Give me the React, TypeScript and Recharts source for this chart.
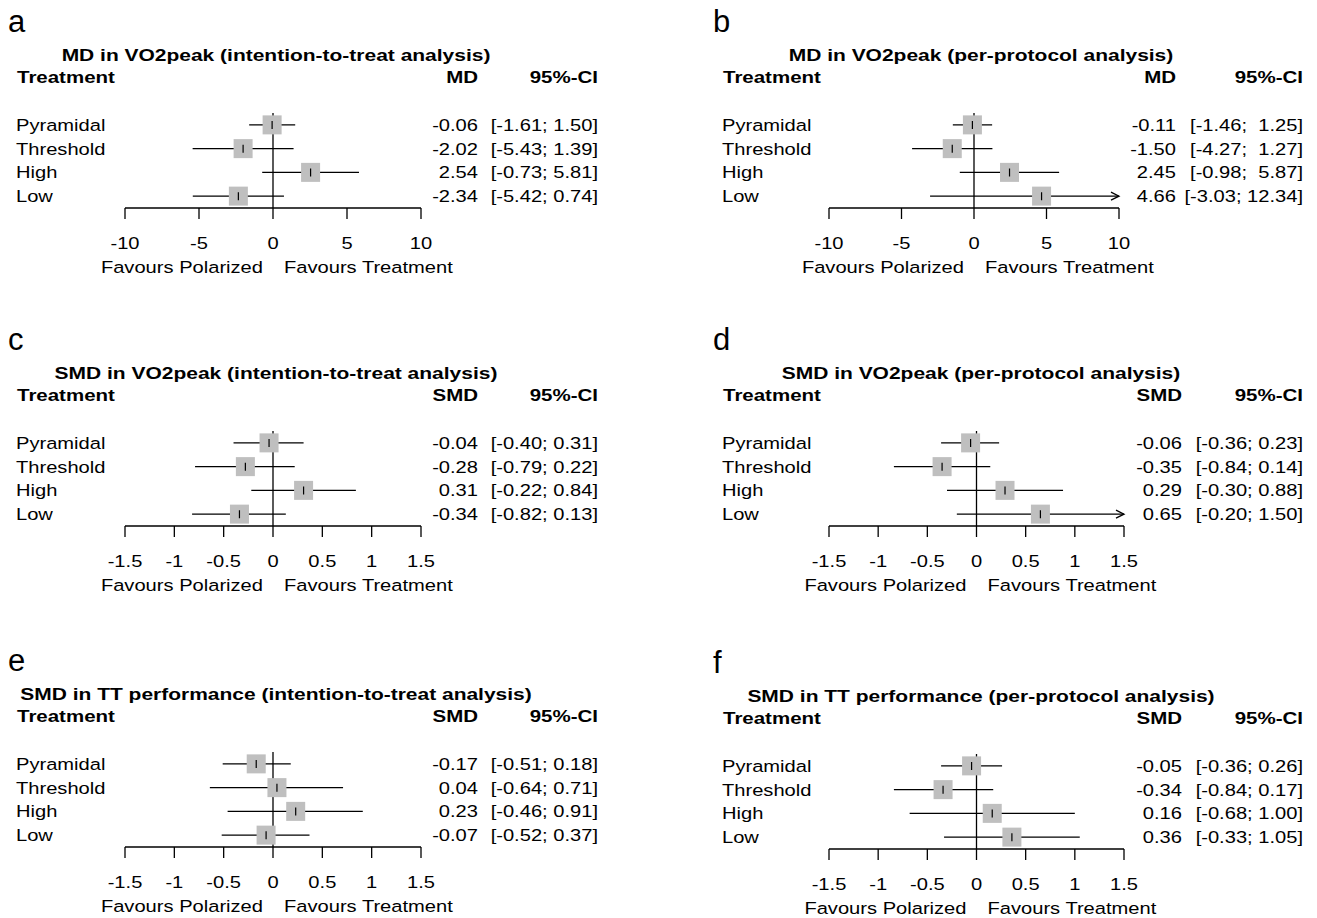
import React from "react";
import { ScatterChart, Scatter, XAxis, YAxis, ReferenceLine } from "recharts";

const treatments = ["Pyramidal", "Threshold", "High", "Low"];

// a: MD in VO2peak, intention-to-treat
const mdIttEst = [-0.06, -2.02, 2.54, -2.34];
const mdIttLower = [-1.61, -5.43, -0.73, -5.42];
const mdIttUpper = [1.5, 1.39, 5.81, 0.74];

// b: MD in VO2peak, per-protocol
const mdPpEst = [-0.11, -1.5, 2.45, 4.66];
const mdPpLower = [-1.46, -4.27, -0.98, -3.03];
const mdPpUpper = [1.25, 1.27, 5.87, 12.34];

// c: SMD in VO2peak, intention-to-treat
const smdIttEst = [-0.04, -0.28, 0.31, -0.34];
const smdIttLower = [-0.4, -0.79, -0.22, -0.82];
const smdIttUpper = [0.31, 0.22, 0.84, 0.13];

// d: SMD in VO2peak, per-protocol
const smdPpEst = [-0.06, -0.35, 0.29, 0.65];
const smdPpLower = [-0.36, -0.84, -0.3, -0.2];
const smdPpUpper = [0.23, 0.14, 0.88, 1.5];

// e: SMD in TT performance, intention-to-treat
const ttIttEst = [-0.17, 0.04, 0.23, -0.07];
const ttIttLower = [-0.51, -0.64, -0.46, -0.52];
const ttIttUpper = [0.18, 0.71, 0.91, 0.37];

// f: SMD in TT performance, per-protocol
const ttPpEst = [-0.05, -0.34, 0.16, 0.36];
const ttPpLower = [-0.36, -0.84, -0.68, -0.33];
const ttPpUpper = [0.26, 0.17, 1.0, 1.05];

const mdTicks = [-10, -5, 0, 5, 10];
const smdTicks = [-1.5, -1, -0.5, 0, 0.5, 1, 1.5];

const FONT = "'Liberation Sans', Arial, Helvetica, sans-serif";
const SX = 1.22; // the figure is stretched horizontally
const W = 620;
const H = 300;
const PLOT_TOP = 113;
const ROW_H = 23.75;
const AXIS_H = 50;
const BOX = 19;

const cols = {
  L: { plotLeft: 125, plotRight: 421, labelX: 16, ciRight: 598 },
  R: { plotLeft: 124, plotRight: 419, labelX: 17, ciRight: 598 },
};

const panels = [
  { letter: "a", left: 0, top: 0, side: "L", estRight: 478, measure: "MD",
    title: "MD in VO2peak (intention-to-treat analysis)",
    est: mdIttEst, lo: mdIttLower, hi: mdIttUpper, ticks: mdTicks },
  { letter: "b", left: 705, top: 0, side: "R", estRight: 471, measure: "MD", plotRight: 414,
    title: "MD in VO2peak (per-protocol analysis)",
    est: mdPpEst, lo: mdPpLower, hi: mdPpUpper, ticks: mdTicks },
  { letter: "c", left: 0, top: 318, side: "L", estRight: 478, measure: "SMD",
    title: "SMD in VO2peak (intention-to-treat analysis)",
    est: smdIttEst, lo: smdIttLower, hi: smdIttUpper, ticks: smdTicks },
  { letter: "d", left: 705, top: 318, side: "R", estRight: 477, measure: "SMD",
    title: "SMD in VO2peak (per-protocol analysis)",
    est: smdPpEst, lo: smdPpLower, hi: smdPpUpper, ticks: smdTicks },
  { letter: "e", left: 0, top: 639, side: "L", estRight: 478, measure: "SMD",
    title: "SMD in TT performance (intention-to-treat analysis)",
    est: ttIttEst, lo: ttIttLower, hi: ttIttUpper, ticks: smdTicks },
  { letter: "f", left: 705, top: 641, side: "R", estRight: 477, measure: "SMD",
    title: "SMD in TT performance (per-protocol analysis)",
    est: ttPpEst, lo: ttPpLower, hi: ttPpUpper, ticks: smdTicks },
];

function T({ x, y, anchor = "start", size = 16.5, bold = false, scale = SX, children }: any) {
  return (
    <text
      transform={`translate(${x},${y}) scale(${scale},1)`}
      textAnchor={anchor}
      dy="0.36em"
      fontSize={size}
      fontWeight={bold ? "bold" : "normal"}
      fontFamily={FONT}
      fill="#000"
      style={{ whiteSpace: "pre" }}
    >
      {children}
    </text>
  );
}

function Box(props: any) {
  const { cx, cy } = props;
  if (cx == null || cy == null) return <g />;
  return (
    <g>
      <rect x={cx - BOX / 2} y={cy - BOX / 2} width={BOX} height={BOX} fill="#bfbfbf" />
      <line x1={cx} x2={cx} y1={cy - 4} y2={cy + 4} stroke="#000" strokeWidth={1.2} />
    </g>
  );
}

function CiLine(arrow: boolean) {
  return (props: any) => {
    const { x1, y1, x2, y2 } = props;
    return (
      <g>
        <line x1={x1} y1={y1} x2={x2} y2={y2} stroke="#000" strokeWidth={1.3} />
        {arrow && (
          <path d={`M${x2 - 8},${y2 - 4} L${x2},${y2} L${x2 - 8},${y2 + 4}`} fill="none" stroke="#000" strokeWidth={1.3} />
        )}
      </g>
    );
  };
}

function Panel({ p }: any) {
  const c = (cols as any)[p.side];
  const plotRight = p.plotRight ?? c.plotRight;
  const min = p.ticks[0];
  const max = p.ticks[p.ticks.length - 1];
  const rows = treatments.map((name, i) => ({
    name,
    row: i + 1,
    est: p.est[i],
    lo: p.lo[i],
    hi: p.hi[i],
  }));
  const hiStr = rows.map((r) => r.hi.toFixed(2));
  const hiLen = Math.max(...hiStr.map((s) => s.length));
  const ciStr = rows.map((r, i) => `[${r.lo.toFixed(2)}; ${hiStr[i].padStart(hiLen)}]`);
  const zeroX = c.plotLeft + ((0 - min) / (max - min)) * (plotRight - c.plotLeft);

  const labelTick = (t: any) => (
    <g>
      <T x={c.labelX} y={t.y}>{treatments[t.payload.value - 1]}</T>
    </g>
  );
  const valueTick = (t: any) => {
    const i = t.payload.value - 1;
    return (
      <g>
        <T x={p.estRight} y={t.y} anchor="end">{rows[i].est.toFixed(2)}</T>
        <T x={c.ciRight} y={t.y} anchor="end">{ciStr[i]}</T>
      </g>
    );
  };
  const xTick = (t: any) => (
    <g>
      <T x={t.x} y={t.y + 24} anchor="middle">{String(t.payload.value)}</T>
    </g>
  );

  return (
    <div style={{ position: "absolute", left: p.left, top: p.top, width: W, height: H }}>
      <ScatterChart
        width={W}
        height={PLOT_TOP + 4 * ROW_H + AXIS_H}
        margin={{ top: PLOT_TOP, right: 0, bottom: 0, left: 0 }}
      >
        <XAxis
          type="number"
          dataKey="est"
          domain={[min, max]}
          ticks={p.ticks}
          interval={0}
          allowDataOverflow
          height={AXIS_H}
          tickSize={11}
          tickMargin={0}
          axisLine={{ stroke: "#000", strokeWidth: 1.3 }}
          tickLine={{ stroke: "#000", strokeWidth: 1.3 }}
          tick={xTick}
        />
        <YAxis
          yAxisId="left"
          type="number"
          dataKey="row"
          domain={[0.5, 4.5]}
          ticks={[1, 2, 3, 4]}
          interval={0}
          reversed
          width={c.plotLeft}
          axisLine={false}
          tickLine={false}
          tick={labelTick}
        />
        <YAxis
          yAxisId="right"
          orientation="right"
          type="number"
          dataKey="row"
          domain={[0.5, 4.5]}
          ticks={[1, 2, 3, 4]}
          interval={0}
          reversed
          width={W - plotRight}
          axisLine={false}
          tickLine={false}
          tick={valueTick}
        />
        <ReferenceLine yAxisId="left" x={0} stroke="#000" strokeWidth={1.3} />
        <Scatter yAxisId="left" data={rows} shape={Box} isAnimationActive={false} />
        <Scatter yAxisId="right" data={rows} shape={() => <g />} isAnimationActive={false} />
        {rows.map((r) => (
          <ReferenceLine
            key={r.name}
            yAxisId="left"
            segment={[
              { x: r.lo, y: r.row },
              { x: Math.min(r.hi, max), y: r.row },
            ]}
            shape={CiLine(r.hi >= max)}
          />
        ))}
      </ScatterChart>
      <svg width={W} height={H} style={{ position: "absolute", left: 0, top: 0, pointerEvents: "none" }}>
        <T x={8} y={21} size={31} scale={1}>{p.letter}</T>
        <T x={276} y={55} anchor="middle" bold size={17.2}>{p.title}</T>
        <T x={c.labelX + 1} y={77} bold size={16.8}>Treatment</T>
        <T x={p.estRight} y={77} anchor="end" bold size={16.8}>{p.measure}</T>
        <T x={c.ciRight} y={77} anchor="end" bold size={16.8}>95%-CI</T>
        <T x={zeroX - 10} y={267} anchor="end">Favours Polarized</T>
        <T x={zeroX + 11} y={267}>Favours Treatment</T>
      </svg>
    </div>
  );
}

export default function App() {
  return (
    <div style={{ position: "absolute", left: 0, top: 0, width: 1317, height: 918, background: "#fff" }}>
      {panels.map((p) => (
        <Panel key={p.letter} p={p} />
      ))}
    </div>
  );
}
